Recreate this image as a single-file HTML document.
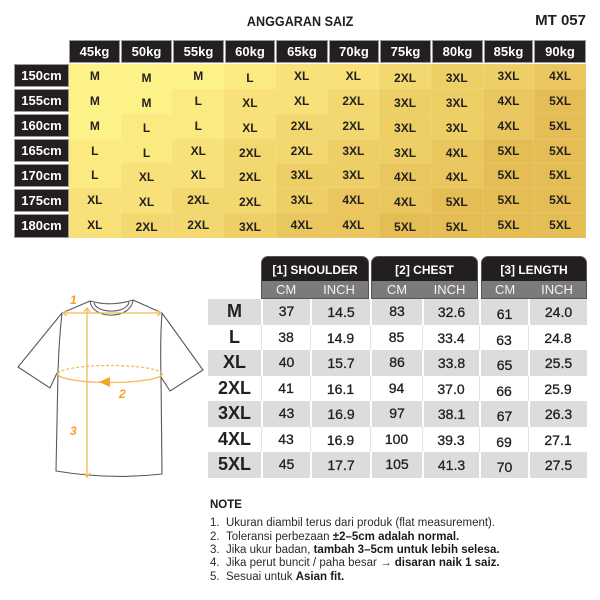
<!DOCTYPE html>
<html>
<head>
<meta charset="utf-8">
<style>
*{margin:0;padding:0;box-sizing:border-box;}
html,body{width:600px;height:600px;background:#fff;overflow:hidden;}
body{position:relative;font-family:"Liberation Sans",Arial,sans-serif;color:#231f20;}
.abs{position:absolute;}
.title{left:0;top:12px;width:600px;text-align:center;font-size:14px;font-weight:bold;line-height:18px;}
.title span{display:inline-block;transform:scaleX(0.9);}
.mt{left:520px;top:11px;width:66px;text-align:right;font-size:15px;font-weight:bold;line-height:20px;}
.hdr{top:40px;height:23px;background:#231f20;border:1px solid #9a9a9a;color:#fff;font-weight:bold;font-size:13px;line-height:21px;text-align:center;}
.rl{left:14px;width:55px;height:23px;background:#231f20;border:1px solid #9a9a9a;color:#fff;font-weight:bold;font-size:13px;line-height:21px;text-align:center;}
.grid{left:69px;top:64px;width:517px;height:174px;display:grid;grid-template-columns:repeat(10,minmax(0,1fr));grid-template-rows:repeat(7,minmax(0,1fr));}
.grid div{font-weight:bold;font-size:12px;text-align:center;line-height:25px;overflow:hidden;box-shadow:inset 0 0 0 0.5px rgba(255,255,255,0.12);}
.grid div:nth-child(10n+2),.grid div:nth-child(10n+4),.grid div:nth-child(10n+7),.grid div:nth-child(10n+8){line-height:29px;}
.m{background:#fdf287;}
.l{background:#fbea7f;}
.xl{background:#f7e178;}
.x2{background:#f2d86f;}
.x3{background:#edcf66;}
.x4{background:#e9c65e;}
.x5{background:#e4bd54;}
.tab{top:256px;height:43px;border-radius:7px 7px 0 0;overflow:hidden;background:#231f20;border:1px solid #555;}
.tab .t{height:25px;color:#fff;font-weight:bold;font-size:12px;line-height:27px;text-align:center;}
.tab .s{position:absolute;left:0;right:0;bottom:0;height:17px;background:#7b7b7b;display:flex;color:#f2f2f2;font-size:13px;line-height:17px;}
.tab .s div{text-align:center;}
.rows{left:208px;top:299px;width:379px;height:179px;display:grid;grid-template-rows:repeat(7,minmax(0,1fr));overflow:hidden;}
.row{display:grid;grid-template-columns:53px 49px 60px 52px 57px 49px 59px;height:100%;overflow:hidden;}
.row div{text-align:center;font-size:14px;line-height:25px;color:#1f1f1f;-webkit-text-stroke:0.3px #1f1f1f;overflow:hidden;}
.row div:first-child{font-size:18px;font-weight:bold;-webkit-text-stroke:0;color:#231f20;line-height:24px;}
.row div:nth-child(3),.row div:nth-child(5),.row div:nth-child(7){line-height:27px;}
.row div:nth-child(6){line-height:30px;}
.g{background:#dcdcdc;}
.g div+div{border-left:2px solid #fff;}
.w{background:#fff;}
.w div+div{border-left:1px solid #e3e3e3;}
.note{left:210px;top:497px;font-size:11.5px;font-weight:bold;line-height:16px;color:#1a1a1a;}
.nl{left:210px;font-size:11.5px;line-height:14px;color:#2a2a2a;white-space:nowrap;}
.nl b{color:#1a1a1a;}
.nl .n{display:inline-block;width:16px;}
</style>
</head>
<body>
<div class="abs title"><span>ANGGARAN SAIZ</span></div>
<div class="abs mt">MT 057</div>

<div class="abs hdr" style="left:69px;width:51px;">45kg</div>
<div class="abs hdr" style="left:121px;width:51px;">50kg</div>
<div class="abs hdr" style="left:173px;width:51px;">55kg</div>
<div class="abs hdr" style="left:225px;width:50px;">60kg</div>
<div class="abs hdr" style="left:276px;width:52px;">65kg</div>
<div class="abs hdr" style="left:329px;width:50px;">70kg</div>
<div class="abs hdr" style="left:380px;width:51px;">75kg</div>
<div class="abs hdr" style="left:432px;width:51px;">80kg</div>
<div class="abs hdr" style="left:484px;width:49px;">85kg</div>
<div class="abs hdr" style="left:534px;width:52px;">90kg</div>

<div class="abs rl" style="top:64px;">150cm</div>
<div class="abs rl" style="top:89px;">155cm</div>
<div class="abs rl" style="top:114px;">160cm</div>
<div class="abs rl" style="top:139px;">165cm</div>
<div class="abs rl" style="top:164px;">170cm</div>
<div class="abs rl" style="top:189px;">175cm</div>
<div class="abs rl" style="top:214px;height:24px;">180cm</div>

<div class="abs grid">
<div class="m">M</div><div class="m">M</div><div class="m">M</div><div class="l">L</div><div class="xl">XL</div><div class="xl">XL</div><div class="x2">2XL</div><div class="x3">3XL</div><div class="x3">3XL</div><div class="x4">4XL</div>
<div class="m">M</div><div class="m">M</div><div class="l">L</div><div class="xl">XL</div><div class="xl">XL</div><div class="x2">2XL</div><div class="x3">3XL</div><div class="x3">3XL</div><div class="x4">4XL</div><div class="x5">5XL</div>
<div class="m">M</div><div class="l">L</div><div class="l">L</div><div class="xl">XL</div><div class="x2">2XL</div><div class="x2">2XL</div><div class="x3">3XL</div><div class="x3">3XL</div><div class="x4">4XL</div><div class="x5">5XL</div>
<div class="l">L</div><div class="l">L</div><div class="xl">XL</div><div class="x2">2XL</div><div class="x2">2XL</div><div class="x3">3XL</div><div class="x3">3XL</div><div class="x4">4XL</div><div class="x5">5XL</div><div class="x5">5XL</div>
<div class="l">L</div><div class="xl">XL</div><div class="xl">XL</div><div class="x2">2XL</div><div class="x3">3XL</div><div class="x3">3XL</div><div class="x4">4XL</div><div class="x4">4XL</div><div class="x5">5XL</div><div class="x5">5XL</div>
<div class="xl">XL</div><div class="xl">XL</div><div class="x2">2XL</div><div class="x2">2XL</div><div class="x3">3XL</div><div class="x4">4XL</div><div class="x4">4XL</div><div class="x5">5XL</div><div class="x5">5XL</div><div class="x5">5XL</div>
<div class="xl">XL</div><div class="x2">2XL</div><div class="x2">2XL</div><div class="x3">3XL</div><div class="x4">4XL</div><div class="x4">4XL</div><div class="x5">5XL</div><div class="x5">5XL</div><div class="x5">5XL</div><div class="x5">5XL</div>
</div>

<div class="abs tab" style="left:261px;width:108px;"><div class="t">[1] SHOULDER</div><div class="s"><div style="width:49px;">CM</div><div style="width:59px;">INCH</div></div></div>
<div class="abs tab" style="left:371px;width:107px;"><div class="t">[2] CHEST</div><div class="s"><div style="width:51px;">CM</div><div style="width:56px;">INCH</div></div></div>
<div class="abs tab" style="left:481px;width:106px;"><div class="t">[3] LENGTH</div><div class="s"><div style="width:47px;">CM</div><div style="width:59px;">INCH</div></div></div>

<div class="abs rows">
<div class="row g"><div>M</div><div>37</div><div>14.5</div><div>83</div><div>32.6</div><div>61</div><div>24.0</div></div>
<div class="row w"><div>L</div><div>38</div><div>14.9</div><div>85</div><div>33.4</div><div>63</div><div>24.8</div></div>
<div class="row g"><div>XL</div><div>40</div><div>15.7</div><div>86</div><div>33.8</div><div>65</div><div>25.5</div></div>
<div class="row w"><div>2XL</div><div>41</div><div>16.1</div><div>94</div><div>37.0</div><div>66</div><div>25.9</div></div>
<div class="row g"><div>3XL</div><div>43</div><div>16.9</div><div>97</div><div>38.1</div><div>67</div><div>26.3</div></div>
<div class="row w"><div>4XL</div><div>43</div><div>16.9</div><div>100</div><div>39.3</div><div>69</div><div>27.1</div></div>
<div class="row g"><div>5XL</div><div>45</div><div>17.7</div><div>105</div><div>41.3</div><div>70</div><div>27.5</div></div>
</div>

<svg class="abs" style="left:0;top:0;" width="600" height="600" viewBox="0 0 600 600">
<g fill="none" stroke="#5a5a5a" stroke-width="1.1" stroke-linejoin="round">
<path d="M90,301 L62,313 L18,367 L50,388 L57,373" fill="#fff"/>
<path d="M133,300 L162,313 L203,370 L170,391 L161,377" fill="#fff"/>
<path d="M62,313 Q59,340 58,372 L56,471 Q110,480 162,474 L161,376 Q160,340 162,313" fill="#fff" stroke="none"/>
<path d="M62,313 Q59,340 58,372 L56,471 Q110,480 162,474 L161,376 Q160,340 162,313"/>
<path d="M90,301 Q111,307 133,300"/>
<path d="M90,301 C92,320 131,320 133,300"/>
<path d="M94,303 C97,314 127,314 129,302"/>
</g>
<g fill="none" stroke="#f7b955" stroke-width="1.3">
<line x1="63" y1="313" x2="161" y2="313"/>
<polyline points="67,310 63,313 67,316"/>
<polyline points="157,310 161,313 157,316"/>
<line x1="87" y1="308" x2="87" y2="477"/>
<polyline points="84,312 87,308 90,312"/>
<polyline points="84,473 87,477 90,473"/>
<path d="M58,374 A52,8.5 0 0 1 162,374" stroke-dasharray="3,2"/>
<path d="M58,374 A52,8.5 0 0 0 162,374"/>
</g>
<polygon points="99,382 110,377 110,387" fill="#f5a623"/>
<g fill="#f5a21d" font-family="Liberation Sans, Arial, sans-serif" font-weight="bold" font-style="italic" font-size="12">
<text x="70" y="304">1</text>
<text x="119" y="398">2</text>
<text x="70" y="435">3</text>
</g>
</svg>

<div class="abs note">NOTE</div>
<div class="abs nl" style="top:516px;"><span class="n">1.</span>Ukuran diambil terus dari produk (flat measurement).</div>
<div class="abs nl" style="top:530px;"><span class="n">2.</span>Toleransi perbezaan <b>±2–5cm adalah normal.</b></div>
<div class="abs nl" style="top:543px;"><span class="n">3.</span>Jika ukur badan, <b>tambah 3–5cm untuk lebih selesa.</b></div>
<div class="abs nl" style="top:556px;"><span class="n">4.</span>Jika perut buncit / paha besar → <b>disaran naik 1 saiz.</b></div>
<div class="abs nl" style="top:570px;"><span class="n">5.</span>Sesuai untuk <b>Asian fit.</b></div>
</body>
</html>
